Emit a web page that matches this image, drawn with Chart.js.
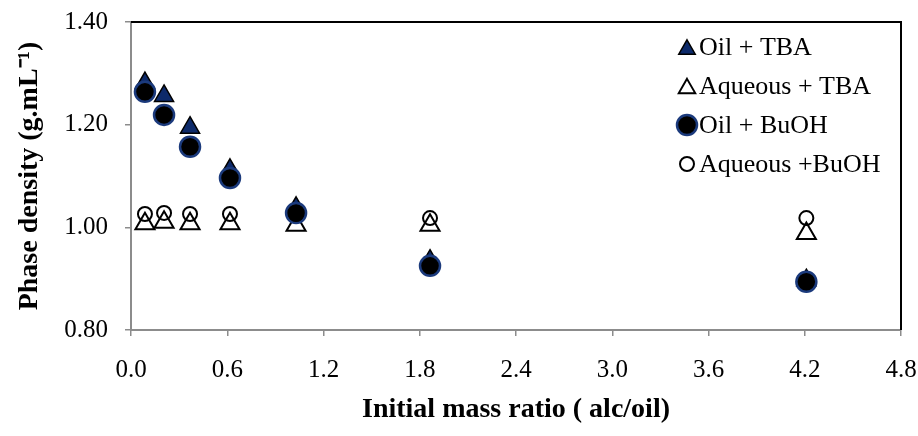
<!DOCTYPE html>
<html>
<head>
<meta charset="utf-8">
<script src="https://cdn.jsdelivr.net/npm/chart.js@4.4.1/dist/chart.umd.min.js"></script>
<style>
  html, body { margin: 0; padding: 0; background: #fff; }
</style>
</head>
<body>
<canvas id="densityChart" width="918" height="436"></canvas>
<script>
// initial alcohol/oil mass ratio and measured phase densities (g/mL)
const massRatio = [0.087, 0.206, 0.368, 0.617, 1.029, 1.864, 4.21];
const oilTBA    = [1.281, 1.256, 1.194, 1.112, 1.038, 0.935, 0.897];
const aqTBA     = [1.007, 1.010, 1.007, 1.007, 1.004, 1.004, 0.988];
const oilBuOH   = [1.264, 1.219, 1.157, 1.096, 1.028, 0.925, 0.894];
const aqBuOH    = [1.026, 1.028, 1.026, 1.026, 1.026, 1.018, 1.018];
const seriesNames = ['Oil + TBA', 'Aqueous + TBA', 'Oil + BuOH', 'Aqueous +BuOH'];

const serif = "'Liberation Serif', 'Times New Roman', serif";
const axisGrey = '#8c8c8c';

const markers = [
  { shape: 'triangle', r: 11, fill: '#0d2a6a', stroke: '#000', lineWidth: 1.5 },
  { shape: 'triangle', r: 11, fill: 'rgba(0,0,0,0)', stroke: '#000', lineWidth: 2 },
  { shape: 'circle', r: 10, fill: '#000', stroke: '#1b3a7c', lineWidth: 2.5 },
  { shape: 'circle', r: 7, fill: 'rgba(0,0,0,0)', stroke: '#000', lineWidth: 2 }
];

function toPoints(values) {
  return massRatio.map((x, i) => ({ x: x, y: values[i] }));
}

function makeSet(label, values, m, order) {
  return {
    label: label,
    data: toPoints(values),
    showLine: false,
    order: order,
    pointStyle: m.shape,
    pointRadius: m.r,
    pointHoverRadius: m.r,
    pointBackgroundColor: m.fill,
    pointBorderColor: m.stroke,
    pointBorderWidth: m.lineWidth,
    pointHoverBorderWidth: m.lineWidth
  };
}

function drawMarker(ctx, m, x, y) {
  ctx.save();
  ctx.fillStyle = m.fill;
  ctx.strokeStyle = m.stroke;
  ctx.lineWidth = m.lineWidth;
  ctx.beginPath();
  if (m.shape === 'triangle') {
    ctx.moveTo(x, y - m.r);
    ctx.lineTo(x + m.r * 0.866, y + m.r / 2);
    ctx.lineTo(x - m.r * 0.866, y + m.r / 2);
    ctx.closePath();
  } else {
    ctx.arc(x, y, m.r, 0, Math.PI * 2);
  }
  ctx.fill();
  ctx.stroke();
  ctx.restore();
}

// black top and right edges of the plot area
const plotFrame = {
  id: 'plotFrame',
  beforeDatasetsDraw(chart) {
    const { ctx, chartArea: a } = chart;
    ctx.save();
    ctx.strokeStyle = '#000';
    ctx.lineWidth = 2;
    ctx.beginPath();
    ctx.moveTo(a.left, a.top);
    ctx.lineTo(a.right, a.top);
    ctx.lineTo(a.right, a.bottom);
    ctx.stroke();
    ctx.restore();
  }
};

// legend sitting inside the top right corner of the plot
const innerLegend = {
  id: 'innerLegend',
  afterDatasetsDraw(chart) {
    const { ctx, chartArea: a } = chart;
    const mx = a.right - 214;
    ctx.save();
    ctx.font = '26px ' + serif;
    ctx.fillStyle = '#000';
    ctx.textBaseline = 'middle';
    seriesNames.forEach((name, i) => {
      const y = a.top + 25 + i * 39;
      const m = Object.assign({}, markers[i]);
      if (m.shape === 'triangle') m.r = 9.5;
      const dy = m.shape === 'triangle' ? m.r / 4 : 0;
      drawMarker(ctx, m, mx, y + dy);
      ctx.fillText(name, a.right - 202, y + 1);
    });
    ctx.restore();
  }
};

new Chart(document.getElementById('densityChart'), {
  type: 'scatter',
  data: {
    datasets: [
      makeSet(seriesNames[0], oilTBA, markers[0], 4),
      makeSet(seriesNames[1], aqTBA, markers[1], 3),
      makeSet(seriesNames[2], oilBuOH, markers[2], 2),
      makeSet(seriesNames[3], aqBuOH, markers[3], 1)
    ]
  },
  options: {
    responsive: false,
    animation: false,
    devicePixelRatio: 1,
    layout: { padding: { top: 22, right: 17, left: 0, bottom: 0 } },
    plugins: {
      legend: { display: false },
      tooltip: { enabled: false }
    },
    scales: {
      x: {
        type: 'linear',
        min: 0,
        max: 4.8,
        afterFit: (scale) => {
          scale.height = 106;
          scale.paddingLeft = 0;
          scale.paddingRight = 0;
        },
        ticks: {
          stepSize: 0.6,
          color: '#000',
          padding: 19,
          maxRotation: 0,
          font: { family: serif, size: 25 },
          callback: (v) => Number(v).toFixed(1)
        },
        grid: { drawOnChartArea: false, tickLength: 6, color: axisGrey, lineWidth: 1.5 },
        border: { color: axisGrey, width: 2 },
        title: {
          display: true,
          text: 'Initial mass ratio ( alc/oil)',
          color: '#000',
          font: { family: serif, size: 28, weight: 'bold' },
          padding: { top: 0, bottom: 9 }
        }
      },
      y: {
        min: 0.8,
        max: 1.4,
        afterFit: (scale) => {
          scale.width = 131;
          scale.paddingTop = 0;
          scale.paddingBottom = 0;
        },
        ticks: {
          stepSize: 0.2,
          color: '#000',
          padding: 17,
          font: { family: serif, size: 25 },
          callback: (v) => Number(v).toFixed(2)
        },
        grid: { drawOnChartArea: false, tickLength: 6, color: axisGrey, lineWidth: 1.5 },
        border: { color: axisGrey, width: 2 },
        title: {
          display: true,
          text: 'Phase density (g.mL\u207B\u00B9)',
          color: '#000',
          font: { family: serif, size: 28, weight: 'bold' },
          padding: { top: 13, bottom: 0 }
        }
      }
    }
  },
  plugins: [plotFrame, innerLegend]
});
</script>
</body>
</html>
